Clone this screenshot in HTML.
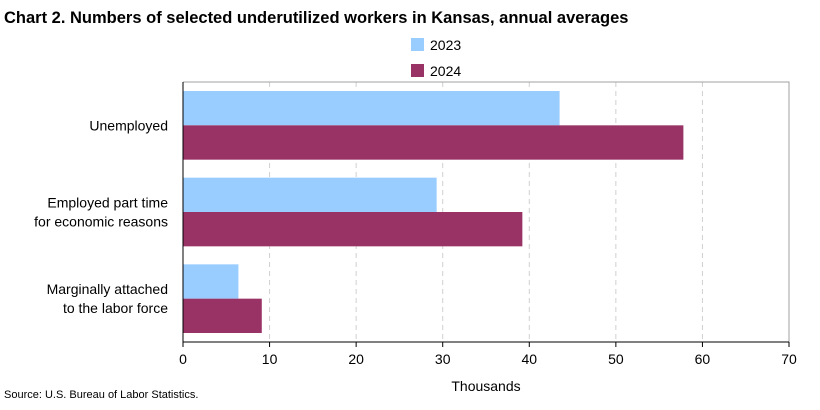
<!DOCTYPE html>
<html><head><meta charset="utf-8"><style>
body{margin:0;background:#fff;font-family:"Liberation Sans",Arial,sans-serif;}
svg text{font-family:"Liberation Sans",Arial,sans-serif;}
</style></head><body>
<svg width="820" height="405" xmlns="http://www.w3.org/2000/svg">
<text x="4" y="23" font-size="16.5" font-weight="bold" fill="#000">Chart 2. Numbers of selected underutilized workers in Kansas, annual averages</text>
<g>
<rect x="411" y="38" width="13" height="13" fill="#99ccff"/>
<text x="430" y="50" font-size="14">2023</text>
<rect x="411" y="64" width="13" height="13" fill="#993366"/>
<text x="430" y="76" font-size="14">2024</text>
</g>
<g id="plot"></g>
<text x="486" y="391" font-size="14" text-anchor="middle">Thousands</text>
<text x="4" y="398" font-size="11">Source: U.S. Bureau of Labor Statistics.</text>
</svg>
<script>
const categories=[["Unemployed"],["Employed part time","for economic reasons"],["Marginally attached","to the labor force"]];
const values2023=[43.5,29.3,6.4];
const values2024=[57.8,39.2,9.1];
const ticks=[0,10,20,30,40,50,60,70];
const NS="http://www.w3.org/2000/svg";
const g=document.getElementById('plot');
const X0=183,X1=789,Y0=82,Y1=342,max=70;
const x=v=>X0+(X1-X0)*v/max;
const band=(Y1-Y0)/categories.length;
function mk(t,a){const e=document.createElementNS(NS,t);for(const k in a)e.setAttribute(k,a[k]);g.appendChild(e);return e;}
ticks.forEach((t,i)=>{
  if(i>0&&i<ticks.length-1){const l=mk('line',{x1:x(t),x2:x(t),y1:Y0,y2:Y1,stroke:'#d0d0d0','stroke-dasharray':'5,4'});
  
  }
  const tk=mk('line',{x1:x(t),x2:x(t),y1:Y1,y2:Y1+5,stroke:'#000'});
  
  
  const tx=mk('text',{x:x(t),y:Y1+22,'font-size':14,'text-anchor':'middle'});tx.textContent=t;
  
  
});
const fr=mk('polyline',{points:`${X0},${Y0} ${X1},${Y0} ${X1},${Y1}`,fill:'none',stroke:'#a0a0a0'});


categories.forEach((c,i)=>{
  const top=Y0+band*i+9,h=(band-18)/2;
  const b1=mk('rect',{x:X0,y:top,width:x(values2023[i])-X0,height:h,fill:'#99ccff'});
  
  
  const b2=mk('rect',{x:X0,y:top+h,width:x(values2024[i])-X0,height:h,fill:'#993366'});
  
  
  const cy=Y0+band*(i+0.5);
  const t=mk('text',{x:168,'font-size':14,'text-anchor':'end'});
  
  
  c.forEach((ln,j)=>{const s=document.createElementNS(NS,'tspan');s.setAttribute('x',168);s.setAttribute('y',cy+5+(j-(c.length-1)/2)*19);s.textContent=ln;t.appendChild(s);});
});
const ax=mk('line',{x1:X0,x2:X0,y1:Y0,y2:Y1,stroke:'#000'});


const bx=mk('line',{x1:X0,x2:X1,y1:Y1,y2:Y1,stroke:'#000'});


</script>
</body></html>
